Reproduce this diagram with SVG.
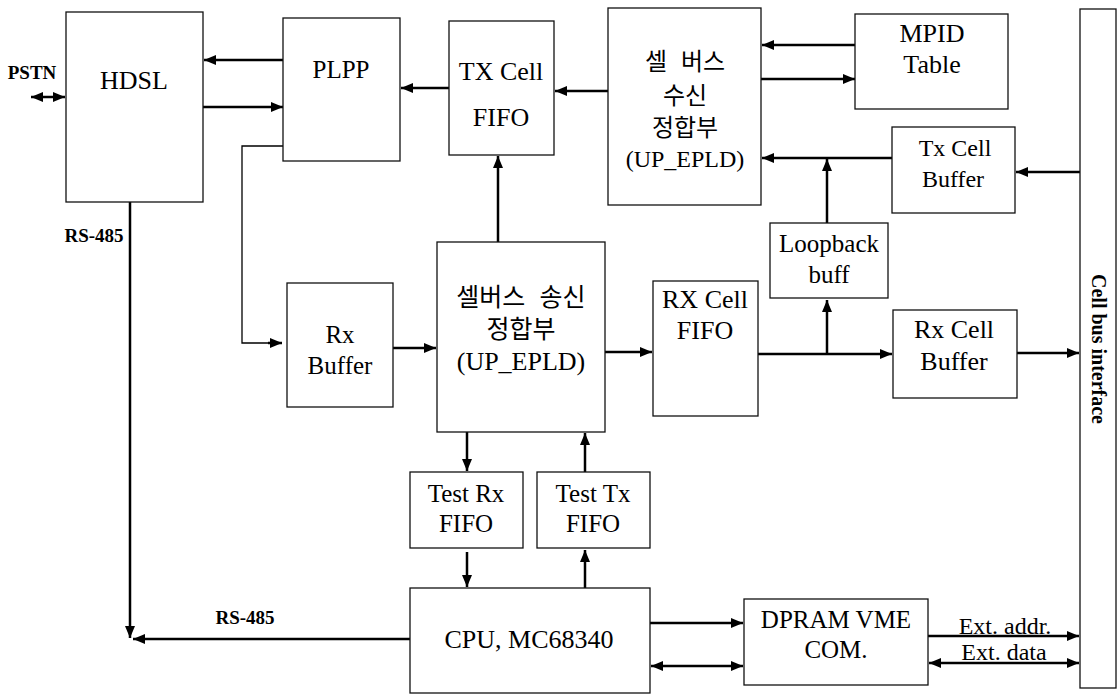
<svg xmlns="http://www.w3.org/2000/svg" width="1118" height="694" viewBox="0 0 1118 694">
<style>
.box{fill:#fff;stroke:#111;stroke-width:1.3}
.c{stroke:#000;stroke-width:2.5;fill:none}
.thin{stroke:#000;stroke-width:1.3;fill:none}
.t{font-family:"Liberation Serif","Noto Sans CJK KR",serif;fill:#000;text-anchor:middle}
.s24{font-size:24px}.s25{font-size:25px}.s26{font-size:26px}
.b{font-weight:bold;font-size:19px}
</style>
<defs>
<marker id="ah" viewBox="0 0 12 10" refX="12" refY="5" markerWidth="12" markerHeight="10" markerUnits="userSpaceOnUse" orient="auto-start-reverse">
<path d="M0,0 L12,5 L0,10 z" fill="#000"/>
</marker>
</defs>
<rect width="1118" height="694" fill="#fff"/>
<g id="connectors">
<line class="c" x1="283" y1="60" x2="204" y2="60" marker-end="url(#ah)"/>
<line class="c" x1="203" y1="107" x2="283" y2="107" marker-end="url(#ah)"/>
<line class="c" x1="31" y1="97" x2="65" y2="97" marker-start="url(#ah)" marker-end="url(#ah)"/>
<line class="c" x1="449" y1="88" x2="401" y2="88" marker-end="url(#ah)"/>
<line class="c" x1="608" y1="91" x2="555" y2="91" marker-end="url(#ah)"/>
<line class="c" x1="855" y1="45" x2="762" y2="45" marker-end="url(#ah)"/>
<line class="c" x1="761" y1="79" x2="855" y2="79" marker-end="url(#ah)"/>
<line class="c" x1="892" y1="158" x2="762" y2="158" marker-end="url(#ah)"/>
<line class="c" x1="827" y1="223" x2="827" y2="159" marker-end="url(#ah)"/>
<line class="c" x1="1080" y1="172" x2="1016" y2="172" marker-end="url(#ah)"/>
<line class="c" x1="498" y1="242" x2="498" y2="156" marker-end="url(#ah)"/>
<polyline class="thin" points="283,146 242,146 242,343 270,343"/>
<line class="c" x1="268" y1="343" x2="282" y2="343" marker-end="url(#ah)"/>
<line class="c" x1="393" y1="348" x2="436" y2="348" marker-end="url(#ah)"/>
<line class="c" x1="605" y1="352" x2="652" y2="352" marker-end="url(#ah)"/>
<line class="c" x1="758" y1="354" x2="892" y2="354" marker-end="url(#ah)"/>
<line class="c" x1="827" y1="354" x2="827" y2="300" marker-end="url(#ah)"/>
<line class="c" x1="1017" y1="353" x2="1079" y2="353" marker-end="url(#ah)"/>
<line class="c" x1="467" y1="432" x2="467" y2="471" marker-end="url(#ah)"/>
<line class="c" x1="467" y1="552" x2="467" y2="587" marker-end="url(#ah)"/>
<line class="c" x1="585" y1="588" x2="585" y2="550" marker-end="url(#ah)"/>
<line class="c" x1="585" y1="472" x2="585" y2="433" marker-end="url(#ah)"/>
<line class="c" x1="130" y1="202" x2="130" y2="638" marker-end="url(#ah)"/>
<line class="c" x1="410" y1="639" x2="133" y2="639" marker-end="url(#ah)"/>
<line class="c" x1="650" y1="623" x2="743" y2="623" marker-end="url(#ah)"/>
<line class="c" x1="651" y1="666" x2="743" y2="666" marker-start="url(#ah)" marker-end="url(#ah)"/>
<line class="c" x1="928" y1="636" x2="1079" y2="636" marker-end="url(#ah)"/>
<line class="c" x1="929" y1="663" x2="1079" y2="663" marker-start="url(#ah)" marker-end="url(#ah)"/>
</g>
<g id="labels">
<text class="t b" x="32" y="79">PSTN</text>
<text class="t b" x="94" y="242">RS-485</text>
<text class="t b" x="245" y="624">RS-485</text>
<text class="t s24" x="1005" y="634">Ext. addr.</text>
<text class="t s24" x="1004" y="660">Ext. data</text>
</g>
<g id="hdsl"><rect class="box" x="66" y="12" width="137" height="190"/><text class="t s26" x="134" y="89">HDSL</text></g>
<g id="plpp"><rect class="box" x="283" y="18" width="117" height="143"/><text class="t s25" x="341" y="78">PLPP</text></g>
<g id="tx-cell-fifo"><rect class="box" x="449" y="21" width="105" height="134"/><text class="t s26" x="501" y="80">TX Cell</text><text class="t s26" x="501" y="126">FIFO</text></g>
<g id="cellbus-rx"><rect class="box" x="608" y="8" width="153" height="197"/>
<text class="t s24" x="685" y="70" word-spacing="8">셀 버스</text>
<text class="t s24" x="685" y="104">수신</text>
<text class="t s24" x="685" y="136">정합부</text>
<text class="t s24" x="685" y="167">(UP_EPLD)</text></g>
<g id="mpid-table"><rect class="box" x="855" y="14" width="153" height="95"/><text class="t s26" x="932" y="42">MPID</text><text class="t s26" x="932" y="73">Table</text></g>
<g id="tx-cell-buffer"><rect class="box" x="892" y="127" width="123" height="86"/><text class="t s24" x="955" y="156">Tx Cell</text><text class="t s24" x="953" y="187">Buffer</text></g>
<g id="loopback-buff"><rect class="box" x="770" y="223" width="118" height="75"/><text class="t s25" x="829" y="252">Loopback</text><text class="t s25" x="829" y="283">buff</text></g>
<g id="rx-buffer"><rect class="box" x="287" y="283" width="106" height="124"/><text class="t s25" x="340" y="343">Rx</text><text class="t s25" x="340" y="374">Buffer</text></g>
<g id="cellbus-tx"><rect class="box" x="437" y="242" width="168" height="190"/>
<text class="t s25" x="521" y="306" word-spacing="8">셀버스 송신</text>
<text class="t s25" x="521" y="338">정합부</text>
<text class="t s26" x="521" y="370">(UP_EPLD)</text></g>
<g id="rx-cell-fifo"><rect class="box" x="653" y="281" width="105" height="135"/><text class="t s26" x="705" y="308">RX Cell</text><text class="t s26" x="705" y="339">FIFO</text></g>
<g id="rx-cell-buffer"><rect class="box" x="893" y="310" width="124" height="88"/><text class="t s26" x="954" y="338">Rx Cell</text><text class="t s26" x="954" y="370">Buffer</text></g>
<g id="test-rx-fifo"><rect class="box" x="410" y="472" width="113" height="76"/><text class="t s25" x="466" y="502">Test Rx</text><text class="t s25" x="466" y="532">FIFO</text></g>
<g id="test-tx-fifo"><rect class="box" x="537" y="472" width="113" height="76"/><text class="t s25" x="593" y="502">Test Tx</text><text class="t s25" x="593" y="532">FIFO</text></g>
<g id="cpu"><rect class="box" x="410" y="588" width="240" height="105"/><text class="t s26" x="529" y="648">CPU, MC68340</text></g>
<g id="dpram"><rect class="box" x="744" y="599" width="184" height="86"/><text class="t s25" x="836" y="628">DPRAM VME</text><text class="t s25" x="836" y="658">COM.</text></g>
<g id="cell-bus-interface"><rect class="box" x="1080" y="9" width="36" height="679"/><text class="t b" style="font-size:20px" transform="translate(1092,349) rotate(90)">Cell bus interface</text></g>
</svg>
